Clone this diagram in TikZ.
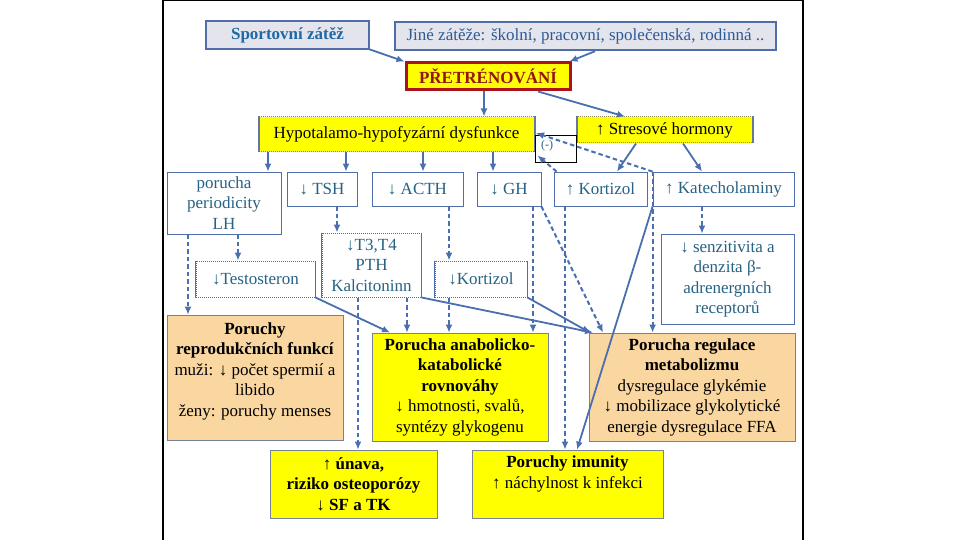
\documentclass[tikz,border=0pt]{standalone}
\usepackage{fontspec}
\setmainfont{Liberation Serif}
\usetikzlibrary{arrows.meta,calc}
\definecolor{arrc}{RGB}{74,111,176}
\definecolor{edgec}{RGB}{79,109,168}
\definecolor{tealc}{RGB}{38,98,132}
\definecolor{sportc}{RGB}{30,105,165}
\definecolor{jinec}{RGB}{45,90,150}
\definecolor{grayfill}{RGB}{228,229,236}
\definecolor{redc}{RGB}{170,20,25}
\definecolor{darkred}{RGB}{150,20,20}
\definecolor{yel}{RGB}{255,255,0}
\definecolor{peach}{RGB}{250,215,160}
\definecolor{boxedge}{RGB}{120,130,150}
\definecolor{olivec}{RGB}{140,140,70}
\definecolor{sidec}{RGB}{100,120,155}
\tikzset{
  txt/.style={font=\fontsize{17}{20.5}\selectfont, align=center, inner sep=0pt},
  topbox/.style={txt, draw=edgec, line width=2.5pt, fill=grayfill},
  pretbox/.style={txt, draw=redc, line width=3pt, fill=yel, text=darkred, font=\fontsize{17}{20.5}\selectfont\bfseries},
  hbox/.style={txt, fill=yel, draw=olivec, densely dotted, line width=1pt},
  hside/.style={draw=sidec, line width=2pt},
  wbox/.style={txt, draw=edgec, line width=0.8pt, fill=white, text=tealc},
  dbox/.style={txt, draw=edgec, densely dotted, line width=1pt, text=tealc},
  dside/.style={draw=edgec, line width=1.8pt},
  ybox/.style={txt, fill=yel, draw=boxedge, line width=0.8pt},
  pbox/.style={txt, fill=peach, draw=boxedge, line width=0.8pt},
  sarr/.style={draw=arrc, line width=1.8pt, -{Latex[length=8pt,width=7pt]}},
  darr/.style={sarr, line width=2pt, dash pattern=on 4.5pt off 3pt},
  framec/.style={draw=black, line width=1.2pt}
}
\begin{document}
\begin{tikzpicture}[x=1pt,y=-1pt]
\useasboundingbox[fill=white] (0,0) rectangle (960,540);
\draw[framec] (163,540) -- (163,0.6) -- (803,0.6) -- (803,540);

% top row
\node[topbox, text=sportc, font=\fontsize{17}{20.5}\selectfont\bfseries, minimum width=163pt, minimum height=28pt] (sport) at (287.5,35) {Sportovní zátěž};
\node[topbox, text=jinec, minimum width=381pt, minimum height=28pt] (jine) at (585.5,36) {Jiné zátěže: školní, pracovní, společenská, rodinná ..};
\node[pretbox, minimum width=164pt, minimum height=27pt] (pret) at (488,76.5) {PŘETRÉNOVÁNÍ};

% second row
\node[hbox, minimum width=275pt, minimum height=35pt] (hypo) at (396.5,134.5) {Hypotalamo-hypofyzární dysfunkce};
\draw[hside] (hypo.north west) -- (hypo.south west);
\draw[hside] (hypo.north east) -- (hypo.south east);
\node[hbox, minimum width=175pt, minimum height=26pt] (stres) at (664.5,130) {↑ Stresové hormony};
\draw[hside] (stres.north west) -- (stres.south west);
\draw[hside] (stres.north east) -- (stres.south east);
\node[draw=black, line width=0.8pt, minimum width=41pt, minimum height=27pt, inner sep=0pt] (minus) at (555.5,148.5) {};
\node[txt, text=tealc, font=\fontsize{12}{14}\selectfont] (minuslbl) at (547,145.5) {(-)};

% third row
\node[wbox, minimum width=114pt, minimum height=62pt] (lh) at (224,203) {porucha\\periodicity\\LH};
\node[wbox, minimum width=70pt, minimum height=34pt] (tsh) at (322,189) {↓ TSH};
\node[wbox, minimum width=91pt, minimum height=34pt] (acth) at (417.5,189) {↓ ACTH};
\node[wbox, minimum width=64pt, minimum height=34pt] (gh) at (509,189) {↓ GH};
\node[wbox, minimum width=93pt, minimum height=34pt] (kort) at (600.5,189) {↑ Kortizol};
\node[wbox, minimum width=141pt, minimum height=34pt] (kat) at (723.5,189) {↑ Katecholaminy};

% fourth row
\node[dbox, minimum width=119pt, minimum height=36pt] (test) at (255.5,279) {↓Testosteron};
\draw[dside] (test.north west) -- (test.south west);
\draw[dside] (test.north east) -- (test.south east);
\node[dbox, minimum width=99pt, minimum height=64pt] (t3) at (371.5,265) {↓T3,T4\\PTH\\Kalcitoninn};
\draw[dside] (t3.north west) -- (t3.south west);
\draw[dside] (t3.north east) -- (t3.south east);
\node[dbox, minimum width=92pt, minimum height=36pt] (kort2) at (481,279) {↓Kortizol};
\draw[dside] (kort2.north west) -- (kort2.south west);
\draw[dside] (kort2.north east) -- (kort2.south east);
\node[wbox, minimum width=133pt, minimum height=90pt] (senz) at (727.5,279) {↓ senzitivita a\\denzita β-\\adrenergních\\receptorů};

% fifth row
\node[pbox, minimum width=176pt, minimum height=125pt] (repro) at (255,377.5) {};
\node[txt] (reprotxt) at (255,371) {\textbf{Poruchy}\\\textbf{reprodukčních funkcí}\\muži: ↓ počet spermií a\\libido\\ženy: poruchy menses};
\node[ybox, minimum width=176pt, minimum height=108pt] (anab) at (460,387) {\textbf{Porucha anabolicko-}\\\textbf{katabolické}\\\textbf{rovnováhy}\\↓ hmotnosti, svalů,\\syntézy glykogenu};
\node[pbox, minimum width=206pt, minimum height=108pt] (regul) at (692,387) {\textbf{Porucha regulace}\\\textbf{metabolizmu}\\dysregulace glykémie\\↓ mobilizace glykolytické\\energie dysregulace FFA};

% sixth row
\node[ybox, font=\fontsize{17}{20.5}\selectfont\bfseries, minimum width=167pt, minimum height=68pt] (unava) at (353.5,484) {↑ únava,\\riziko osteoporózy\\↓ SF a TK};
\node[ybox, minimum width=191pt, minimum height=68pt] (imun) at (567.5,484) {};
\node[txt] (imuntxt) at (567.5,474) {\textbf{Poruchy imunity}\\↑ náchylnost k infekci};

% solid connectors
\draw[sarr] ([xshift=-1pt,yshift=1pt]sport.south east) -- (pret.north west);
\draw[sarr] ([xshift=9.5pt]jine.south) -- ([xshift=-2pt]pret.north east);
\draw[sarr] ([xshift=-4pt]pret.south) -- ([xshift=-4pt]pret.south |- hypo.north);
\draw[sarr] ([xshift=50pt]pret.south) -- ([xshift=-39.5pt]stres.north);
\draw[sarr] ([xshift=44pt]lh.north |- hypo.south) -- ([xshift=44pt]lh.north);
\draw[sarr] ([xshift=24pt]tsh.north |- hypo.south) -- ([xshift=24pt]tsh.north);
\draw[sarr] ([xshift=5.5pt]acth.north |- hypo.south) -- ([xshift=5.5pt]acth.north);
\draw[sarr] ([xshift=-16pt]gh.north |- hypo.south) -- ([xshift=-16pt]gh.north);
\draw[sarr] ([xshift=-28.5pt]stres.south) -- ([xshift=16.5pt]kort.north);
\draw[sarr] ([xshift=18.5pt]stres.south) -- ([xshift=-21.5pt]kat.north);
\draw[sarr] (kat.south west) -- ([xshift=9.5pt]imun.north);
\draw[sarr] (test.south east) -- ([xshift=-70pt]anab.north);
\draw[sarr] (t3.south east) -- ([xshift=-99pt]regul.north);
\draw[sarr] (kort2.south east) -- ([xshift=-102pt]regul.north);

% dashed connectors
\draw[darr] ([xshift=-36pt]lh.south) -- ([xshift=-36pt]lh.south |- repro.north);
\draw[darr] ([xshift=14pt]lh.south) -- ([xshift=14pt]lh.south |- test.north);
\draw[darr] ([xshift=15pt]tsh.south) -- ([xshift=15pt]tsh.south |- t3.north);
\draw[darr] ([xshift=31.5pt]acth.south) -- ([xshift=31.5pt]acth.south |- kort2.north);
\draw[darr] ([xshift=-13.5pt]t3.south) -- ([xshift=-13.5pt]t3.south |- unava.north);
\draw[darr] ([xshift=35.5pt]t3.south) -- ([xshift=35.5pt]t3.south |- anab.north);
\draw[darr] ([xshift=-32pt]kort2.south) -- ([xshift=-32pt]kort2.south |- anab.north);
\draw[darr] ([xshift=24pt]gh.south) -- ([xshift=24pt]gh.south |- anab.north);
\draw[darr] (gh.south east) -- ([xshift=-89pt]regul.north);
\draw[darr] ([xshift=-35.5pt]kort.south) -- ([xshift=-35.5pt]kort.south |- imun.north);
\draw[darr] (kat.north west) -- (kat.north west |- regul.north);
\draw[darr] (kat.north west) -- ([xshift=1.5pt,yshift=1.5pt]hypo.east);
\draw[darr] ([xshift=3pt]kort.north west) -- ([xshift=3pt,yshift=-3pt]hypo.south east);
\draw[darr] ([xshift=-21.5pt]kat.south) -- ([xshift=-25.5pt]senz.north);
\end{tikzpicture}
\end{document}
